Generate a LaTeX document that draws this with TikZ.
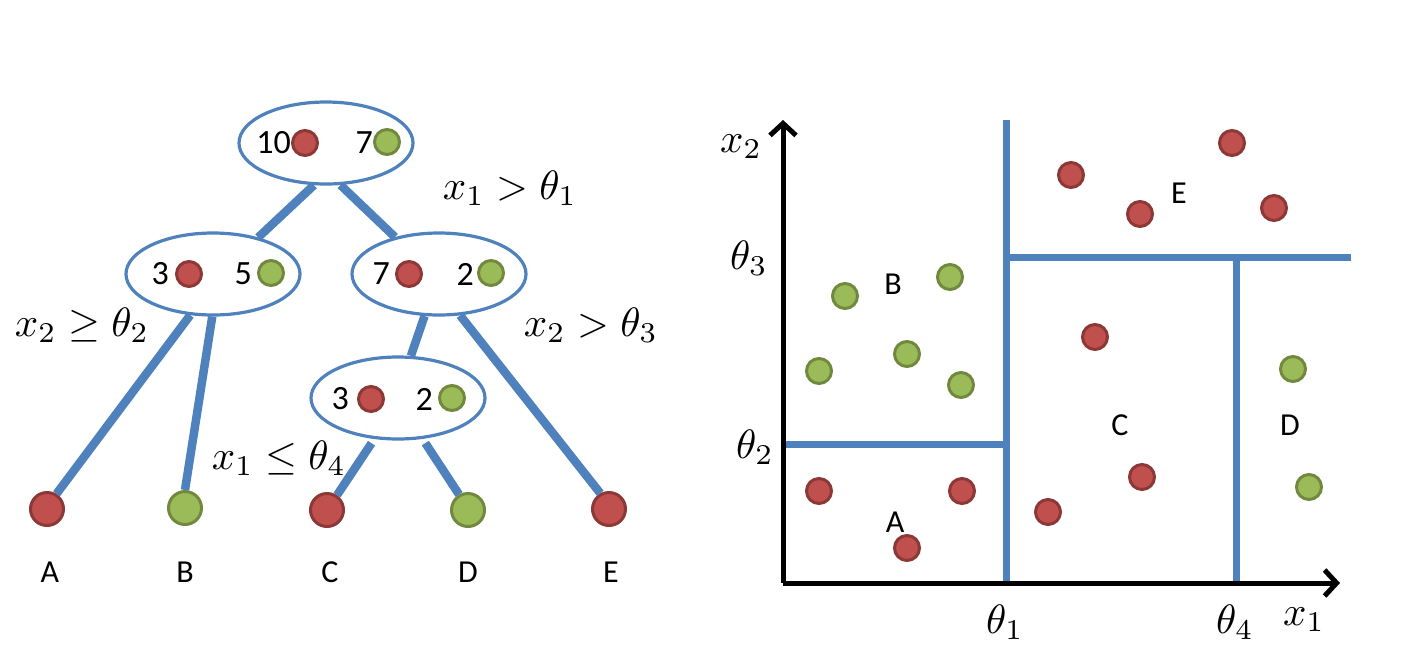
\documentclass[tikz,border=0pt]{standalone}
\usepackage{fontspec}
\setmainfont{Carlito}
\usetikzlibrary{shapes.geometric,arrows.meta}
\definecolor{rfill}{HTML}{C0504D}
\definecolor{rdraw}{HTML}{8C3836}
\definecolor{gfill}{HTML}{9BBB59}
\definecolor{gdraw}{HTML}{71893F}
\definecolor{tblue}{HTML}{4F81BD}
\newcommand{\mybigmath}[1]{\scalebox{4.1}{$#1$}}
\begin{document}
\begin{tikzpicture}[x=1pt,y=-1pt,
  split/.style={ellipse, draw=tblue, line width=3.2pt, minimum width=174pt, minimum height=82pt, inner sep=0pt},
  rdot/.style={circle, fill=rfill, draw=rdraw, line width=3pt, minimum size=25pt, inner sep=0pt},
  gdot/.style={circle, fill=gfill, draw=gdraw, line width=3pt, minimum size=25pt, inner sep=0pt},
  rleaf/.style={circle, fill=rfill, draw=rdraw, line width=3pt, minimum size=33pt, inner sep=0pt},
  gleaf/.style={circle, fill=gfill, draw=gdraw, line width=3pt, minimum size=33pt, inner sep=0pt},
  num/.style={font=\fontsize{34}{36}\selectfont, inner sep=0pt, anchor=east},
  lab/.style={font=\fontsize{32}{34}\selectfont, inner sep=0pt},
  mlab/.style={font=\normalsize, inner sep=0pt},
  treeedge/.style={tblue, line width=8.5pt},
  part/.style={tblue, line width=7pt},
  axisline/.style={black, line width=5pt, -{Straight Barb[length=12pt,width=26pt]}}
]
\useasboundingbox (0,0) rectangle (1406,657);
% ---------- tree ----------
\node[split] (root) at (326,143) {};
\node[split] (lc) at (213,274) {};
\node[split] (rc) at (439,274) {};
\node[split] (tc) at (398,398) {};
% contents
\node[num] (n1) at (291,143) {10};
\node[rdot] (d1) at (305,143) {};
\node[num] (n2) at (373,143) {7};
\node[gdot] (d2) at (387,142) {};
\node[num] (n3) at (169,274) {3};
\node[rdot] (d3) at (189,274) {};
\node[num] (n4) at (252,274) {5};
\node[gdot] (d4) at (271,273) {};
\node[num] (n5) at (390,274) {7};
\node[rdot] (d5) at (409,274) {};
\node[num] (n6) at (474,274) {2};
\node[gdot] (d6) at (491,273) {};
\node[num] (n7) at (349,399) {3};
\node[rdot] (d7) at (371,399) {};
\node[num] (n8) at (433,399) {2};
\node[gdot] (d8) at (452,398) {};
% leaves
\node[rleaf] (la) at (47,509) {};
\node[gleaf] (lb) at (185,508) {};
\node[rleaf] (lcc) at (327,510) {};
\node[gleaf] (ld) at (468,510) {};
\node[rleaf] (le) at (609,509) {};
\node[lab] (ta) at (50,572) {A};
\node[lab] (tb) at (185,572) {B};
\node[lab] (tcc) at (330,572) {C};
\node[lab] (td) at (468,572) {D};
\node[lab] (te) at (611,572) {E};
% edges
\draw[treeedge] (root.-106) -- (lc.39);
\draw[treeedge] (root.-71) -- (rc.140);
\draw[treeedge] (lc.-119) -- (la.58);
\draw[treeedge] (lc.-91) -- (lb.90);
\draw[treeedge] (rc.-109) -- (tc.73);
\draw[treeedge] (rc.-63) -- (le.119);
\draw[treeedge, shorten <=5pt] (tc.-120) -- (lcc.56);
\draw[treeedge, shorten <=5pt] (tc.-59) -- (ld.120);
% math labels
\node[mlab] (m1) at (510,188) {\mybigmath{x_1>\theta_1}};
\node[mlab] (m2) at (82,325) {\mybigmath{x_2\geq\theta_2}};
\node[mlab] (m3) at (591,325) {\mybigmath{x_2>\theta_3}};
\node[mlab] (m4) at (279,458) {\mybigmath{x_1\leq\theta_4}};
% ---------- plot ----------
\coordinate (o) at (783,583);
\coordinate (ytip) at (783,120);
\coordinate (xtip) at (1340,583);
\coordinate (v1t) at (1006,120);
\coordinate (v1b) at (1006,583);
\coordinate (h3l) at (1006,257);
\coordinate (h3r) at (1351,257);
\coordinate (v4t) at (1236,257);
\coordinate (v4b) at (1236,583);
\coordinate (h2l) at (783,444);
\coordinate (h2r) at (1006,444);
\draw[part] (v1t) -- (v1b);
\draw[part] (h3l) -- (h3r);
\draw[part] (v4t) -- (v4b);
\draw[part] (h2l) -- (h2r);
\draw[axisline] (o) -- (ytip);
\draw[axisline] (o) -- (xtip);
\node[mlab] (ax2) at (741,147) {\mybigmath{x_2}};
\node[mlab] (th3) at (749,258) {\mybigmath{\theta_3}};
\node[mlab] (th2) at (755,447) {\mybigmath{\theta_2}};
\node[mlab] (th1) at (1005,622) {\mybigmath{\theta_1}};
\node[mlab] (th4) at (1235,622) {\mybigmath{\theta_4}};
\node[mlab] (ax1) at (1304,620) {\mybigmath{x_1}};
% region labels
\node[lab] (rb) at (893,284) {B};
\node[lab] (re) at (1179,193) {E};
\node[lab] (rcl) at (1120,425) {C};
\node[lab] (rd) at (1290,425) {D};
\node[lab] (ra) at (895,522) {A};
% data points
\foreach \px/\py [count=\i] in {845/296, 950/277, 819/371, 907/354, 961/385, 1293/369, 1309/487}
  \node[gdot] (g\i) at (\px,\py) {};
\foreach \px/\py [count=\i] in {819/491, 962/491, 907/548, 1071/175, 1140/214, 1232/143, 1274/208, 1095/337, 1048/512, 1142/477}
  \node[rdot] (r\i) at (\px,\py) {};
\end{tikzpicture}
\end{document}
